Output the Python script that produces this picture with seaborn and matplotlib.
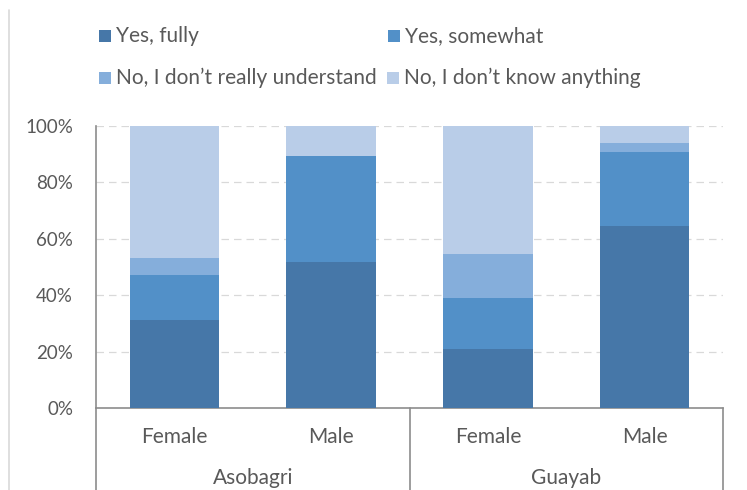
import matplotlib
matplotlib.use("Agg")
import matplotlib.pyplot as plt
import seaborn as sns
import pandas as pd
import numpy as np
from matplotlib.patches import Rectangle
from matplotlib.lines import Line2D

groups = ["Asobagri", "Asobagri", "Guayab", "Guayab"]
genders = ["Female", "Male", "Female", "Male"]
series_names = ["Yes, fully", "Yes, somewhat", "No, I don\u2019t really understand", "No, I don\u2019t know anything"]
yes_fully = [31.3, 51.8, 21.0, 64.5]
yes_somewhat = [15.9, 37.6, 18.0, 26.2]
no_understand = [5.9, 0.0, 15.5, 3.3]
no_know = [46.9, 10.6, 45.5, 6.0]
colors = ["#4677A8", "#5290C8", "#85AEDB", "#B9CDE8"]
yticks = [0, 20, 40, 60, 80, 100]

sns.set_theme(style="white")
plt.rcParams["font.family"] = ["Lato", "DejaVu Sans"]

W, H = 747, 490
fig = plt.figure(figsize=(W / 100, H / 100), dpi=100)
ax = fig.add_axes([96/W, 1-408/H, (723-96)/W, (408-126)/H])

keys = [f"{g}-{s}" for g, s in zip(groups, genders)]
vals = np.array([yes_fully, yes_somewhat, no_understand, no_know])
cum = np.cumsum(vals, axis=0)

for i in range(3, -1, -1):
    df = pd.DataFrame({"key": keys, "val": cum[i]})
    sns.barplot(data=df, x="key", y="val", order=keys, color=colors[i],
                width=0.57, ax=ax, saturation=1, edgecolor="none", zorder=3)

TXT = "#595959"
ax.set_xlim(-0.5, 3.5)
ax.set_ylim(0, 100)
ax.set_yticks(yticks)
ax.set_yticklabels([f"{t}%" for t in yticks], color=TXT, fontsize=13.5)
ax.tick_params(axis="y", length=0, pad=16.5)
ax.set_xticks([])
ax.set_xlabel("")
ax.set_ylabel("")
for y in yticks[1:]:
    ax.axhline(y, color="#D9D9D9", lw=0.9, ls=(0, (6, 4)), zorder=1)

for s in ["top", "right"]:
    ax.spines[s].set_visible(False)
for s in ["left", "bottom"]:
    ax.spines[s].set_color("#8C8C8C")
    ax.spines[s].set_linewidth(1.2)

# multi-level category box
for xf in [0, 0.5, 1.0]:
    ax.add_line(Line2D([xf, xf], [0, -0.35], transform=ax.transAxes,
                       color="#8C8C8C", lw=1.2, clip_on=False))
for i, g in enumerate(genders):
    ax.text((i + 0.5) / 4, -(437 - 408) / 282, g, transform=ax.transAxes, ha="center", va="center",
            fontsize=15, color=TXT)
for j, gname in enumerate(["Asobagri", "Guayab"]):
    ax.text(0.25 + 0.5 * j, -(478 - 408) / 282, gname, transform=ax.transAxes, ha="center", va="center",
            fontsize=15, color=TXT)

# chart border on left
fig.add_artist(Line2D([9/W, 9/W], [0, 1-10/H], transform=fig.transFigure,
                      color="#D9D9D9", lw=1.2))

# legend (2 columns)
leg_pos = [(99, 36), (388, 36), (99, 78), (387, 78)]
for k, (px, py) in enumerate(leg_pos):
    fig.add_artist(Rectangle((px / W, 1 - (py + 6) / H), 12 / W, 12 / H,
                             transform=fig.transFigure, facecolor=colors[k], edgecolor="none"))
    fig.text((px + 17) / W, 1 - py / H, series_names[k], ha="left", va="center",
             fontsize=15, color=TXT)

fig.savefig("out.png", dpi=100)
